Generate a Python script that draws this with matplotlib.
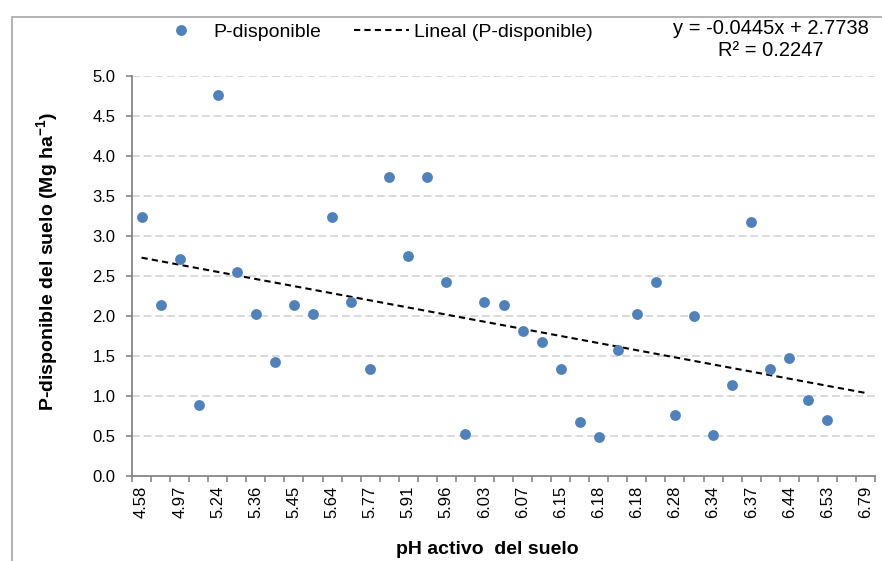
import numpy as np
import matplotlib
matplotlib.use('Agg')
import matplotlib.pyplot as plt
from matplotlib.patches import Rectangle

plt.rcParams['font.family'] = ['Liberation Sans', 'DejaVu Sans']
plt.rcParams['mathtext.fontset'] = 'custom'
plt.rcParams['mathtext.rm'] = 'Liberation Sans'
plt.rcParams['mathtext.bf'] = 'Liberation Sans:bold'
plt.rcParams['mathtext.default'] = 'bf'

# pH labels shown on the category axis (every second category)
ph_labels = ['4.58', '4.97', '5.24', '5.36', '5.45', '5.64', '5.77', '5.91', '5.96', '6.03',
             '6.07', '6.15', '6.18', '6.18', '6.28', '6.34', '6.37', '6.44', '6.53', '6.79']
n_cat = 2 * len(ph_labels) - 1

# P-disponible (Mg ha-1), one value per category
p_disp = [3.24, 2.14, 2.71, 0.89, 4.76, 2.55, 2.03, 1.42, 2.14, 2.03,
          3.24, 2.17, 1.34, 3.74, 2.75, 3.74, 2.42, 0.52, 2.17, 2.14,
          1.81, 1.68, 1.34, 0.67, 0.49, 1.58, 2.03, 2.43, 0.76, 2.00,
          0.51, 1.14, 3.18, 1.34, 1.47, 0.95, 0.70]

# Excel linear trendline
slope = -0.0445
intercept = 2.7738
r2 = 0.2247

blue = '#4F81BD'
axis_grey = '#868686'

fig = plt.figure(figsize=(8.82, 5.61), dpi=100)
fig.patches.append(Rectangle((12 / 882, -0.1), 1.0, 1.1 - 17 / 561, transform=fig.transFigure,
                             fill=False, edgecolor='#a6a6a6', linewidth=1.2))

ax = fig.add_axes([132 / 882, 1 - 476 / 561, (875 - 132) / 882, 400 / 561])

xs = np.arange(1, len(p_disp) + 1)
ax.plot(xs, p_disp, 'o', color=blue, markersize=7.8, markeredgewidth=0, label='P-disponible', zorder=3)

xt = np.arange(1, n_cat + 1)
ax.plot(xt, slope * xt + intercept, color='black', linewidth=1.5, dashes=(3, 2),
        label='Lineal (P-disponible)', zorder=2)

ax.set_xlim(0.5, n_cat + 0.5)
ax.set_ylim(0, 5)
ax.set_yticks(np.arange(0, 5.01, 0.5))
ax.set_yticklabels([f'{v:.1f}' for v in np.arange(0, 5.01, 0.5)])
ax.set_xticks(np.arange(1, n_cat + 1, 2))
ax.set_xticklabels(ph_labels, rotation=90)
ax.set_xticks(np.arange(0.5, n_cat + 1, 1), minor=True)

for v in np.arange(0.5, 5.01, 0.5):
    ax.axhline(v, color='#d9d9d9', linewidth=1.4, dashes=(4, 2), zorder=1)

for s in ['top', 'right']:
    ax.spines[s].set_visible(False)
for s in ['left', 'bottom']:
    ax.spines[s].set_color(axis_grey)
    ax.spines[s].set_linewidth(1.3)

ax.tick_params(axis='y', direction='out', length=4, width=1.2, color=axis_grey, pad=8, labelsize=12)
ax.tick_params(axis='x', which='major', length=0, pad=7, labelsize=12)
ax.tick_params(axis='x', which='minor', direction='out', length=4, width=1.2, color=axis_grey)

ax.set_xlabel('pH activo  del suelo', fontsize=14, fontweight='bold')
ax.xaxis.set_label_coords((487 - 132) / 743, (476 - 549) / 400)
ax.xaxis.label.set_va('center')
ax.set_ylabel('P-disponible del suelo (Mg ha$^{-1}$)', fontsize=14, fontweight='bold')
ax.yaxis.set_label_coords((47 - 132) / 743, (476 - 262) / 400)
ax.yaxis.label.set_va('center')

fig.legend(loc='center left', bbox_to_anchor=(154 / 882, 1 - 32 / 561), ncol=2, frameon=False,
           fontsize=14, handlelength=2.8, handletextpad=0.26, columnspacing=1.7, borderpad=0,
           borderaxespad=0, numpoints=1)

fig.text(771 / 882, 1 - 40 / 561, f'y = {slope:.4f}x + {intercept:.4f}\nR² = {r2:.4f}',
         ha='center', va='center', multialignment='center', fontsize=14.5, linespacing=1.2)

fig.savefig('out.png', dpi=100)
